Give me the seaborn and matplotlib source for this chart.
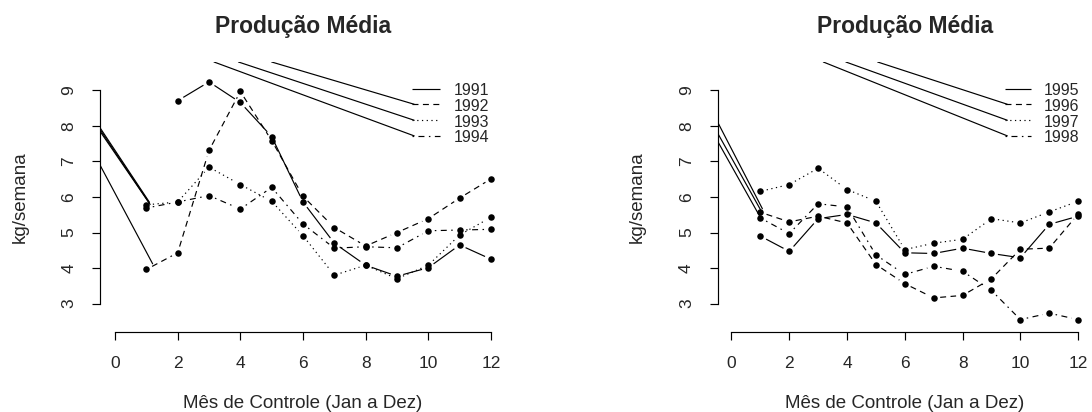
import numpy as np
import pandas as pd
import matplotlib
matplotlib.use("Agg")
import matplotlib.pyplot as plt
import seaborn as sns

# ---------------- data ----------------
nan = float("nan")
months = list(range(1, 13))

years_left = ["1991", "1992", "1993", "1994"]
prod_1991 = [nan, 8.71, 9.24, 8.66, 7.70, 5.86, 4.70, 4.08, 3.77, 4.01, 4.65, 4.25]
prod_1992 = [3.96, 4.43, 7.31, 8.97, 7.59, 6.02, 5.14, 4.62, 5.00, 5.39, 5.97, 6.51]
prod_1993 = [5.78, 5.86, 6.84, 6.35, 5.88, 4.91, 3.80, 4.08, 3.70, 4.08, 4.93, 5.43]
prod_1994 = [5.69, 5.86, 6.04, 5.66, 6.27, 5.24, 4.56, 4.60, 4.57, 5.05, 5.07, 5.09]

years_right = ["1995", "1996", "1997", "1998"]
prod_1995 = [4.90, 4.47, 5.39, 5.51, 5.27, 4.43, 4.41, 4.56, 4.41, 4.29, 5.23, 5.46]
prod_1996 = [5.57, 5.30, 5.46, 5.27, 4.10, 3.56, 3.16, 3.23, 3.70, 4.53, 4.56, 5.52]
prod_1997 = [6.16, 6.35, 6.81, 6.21, 5.88, 4.52, 4.70, 4.81, 5.39, 5.27, 5.58, 5.88]
prod_1998 = [5.41, 4.97, 5.81, 5.72, 4.37, 3.82, 4.05, 3.91, 3.37, 2.55, 2.73, 2.55]

x_ticks = [0, 2, 4, 6, 8, 10, 12]
y_ticks = [3, 4, 5, 6, 7, 8, 9]
title_text = "Produção Média"
xlabel_text = "Mês de Controle (Jan a Dez)"
ylabel_text = "kg/semana"

# stray segments present in the original figure (data coordinates)
top_leader_x_left = [5.00, 3.94, 3.16]      # where they leave the top of the frame (rows 2..4)
top_leader_x_right = [5.06, 3.96, 3.18]
edge_leader_left_y0 = [7.95, 7.90, 7.85, 6.90]
edge_leader_left_x1 = [1.10, 1.10, 1.12, 1.20]
edge_leader_left_y1 = [5.85, 5.82, 5.79, 4.12]
edge_leader_right_y0 = [8.11, 7.80, 7.57]
edge_leader_right_x1 = [1.07, 1.02, 0.97]
edge_leader_right_y1 = [5.67, 5.62, 5.47]

legend_rows_y = [9.04, 8.61, 8.16, 7.72]
legend_line_x = [9.48, 10.37]
legend_text_x = 10.82
leader_end_x = 9.55

XLIM = (-0.48, 12.48)
YLIM = (2.2, 9.8)

# ---------------- style ----------------
sns.set_theme(style="white")
plt.rcParams["font.family"] = ["Liberation Sans", "DejaVu Sans"]
plt.rcParams["lines.scale_dashes"] = False

LW = 0.85
GAP = 6.5  # px, gap around points like R type="b"
line_styles = ["-", (0, (4.3, 3.2)), (0, (0.9, 2.5)), (0, (1.1, 3.2, 4.3, 3.2))]

W, H = 1092, 412
fig = plt.figure(figsize=(W / 100, H / 100), dpi=100)
ax_l = fig.add_axes([100 / W, 80 / H, 406 / W, 270 / H])
ax_r = fig.add_axes([717.6 / W, 80 / H, 374.4 / W, 270 / H])


def setup(ax):
    ax.set_xlim(*XLIM)
    ax.set_ylim(*YLIM)
    ax.set_xticks(x_ticks)
    ax.set_yticks(y_ticks)
    for s in ["top", "right"]:
        ax.spines[s].set_visible(False)
    for s in ["left", "bottom"]:
        ax.spines[s].set_color("black")
        ax.spines[s].set_linewidth(LW)
    ax.spines["left"].set_bounds(y_ticks[0], y_ticks[-1])
    ax.spines["bottom"].set_bounds(x_ticks[0], x_ticks[-1])
    ax.tick_params(axis="both", direction="out", length=6, width=LW, color="black",
                   labelsize=12.5, pad=11, left=True, bottom=True)
    ax.tick_params(axis="y", labelrotation=90)
    for lab in ax.get_yticklabels():
        lab.set_va("center")
        lab.set_ha("right")
    ax.grid(False)
    ax.set_facecolor("white")


def draw_series(ax, ys, style):
    pts = [(x, y) for x, y in zip(months, ys) if not np.isnan(y)]
    inv = ax.transData.inverted()
    for (x0, y0), (x1, y1) in zip(pts[:-1], pts[1:]):
        p0 = ax.transData.transform((x0, y0))
        p1 = ax.transData.transform((x1, y1))
        d = p1 - p0
        L = np.hypot(*d)
        if L <= 2 * GAP:
            continue
        u = d / L
        a = inv.transform(p0 + u * GAP)
        b = inv.transform(p1 - u * GAP)
        ax.plot([a[0], b[0]], [a[1], b[1]], color="black", lw=LW, linestyle=style,
                solid_capstyle="butt", dash_capstyle="butt")


def panel(ax, years, series, top_leader_x, e_y0, e_x1, e_y1):
    setup(ax)
    fig.canvas.draw()
    for ys, st in zip(series, line_styles):
        draw_series(ax, ys, st)
    df = pd.DataFrame({
        "mes": months * len(series),
        "kg": sum([list(s) for s in series], []),
        "ano": sum([[y] * len(months) for y in years], []),
    }).dropna()
    sns.scatterplot(data=df, x="mes", y="kg", color="black", s=22, linewidth=0,
                    ax=ax, legend=False, zorder=3)
    # stray segments from the left border
    for y0, x1, y1 in zip(e_y0, e_x1, e_y1):
        ax.plot([XLIM[0], x1], [y0, y1], color="black", lw=LW)
    # stray segments from the top border to legend rows 2..4
    for xt, yr in zip(top_leader_x, legend_rows_y[1:]):
        ax.plot([xt, leader_end_x], [YLIM[1], yr], color="black", lw=LW)
    # legend
    for yr, st, yy in zip(legend_rows_y, line_styles, years):
        ax.plot(legend_line_x, [yr, yr], color="black", lw=LW, linestyle=st,
                solid_capstyle="butt", dash_capstyle="butt", clip_on=False)
        ax.text(legend_text_x, yr - 0.05, yy, fontsize=11.5, ha="left", va="center",
                clip_on=False)
    ax.set_xlim(*XLIM)
    ax.set_ylim(*YLIM)
    ax.set_xlabel(xlabel_text, fontsize=13.5)
    ax.set_ylabel(ylabel_text, fontsize=13.5)
    ax.xaxis.label.set_va("center")
    ax.yaxis.label.set_va("center")
    ax.xaxis.set_label_coords(0.5, (332 - 403) / 270)
    w_px = ax.get_position().width * W
    ax.yaxis.set_label_coords(-80 / w_px, 0.5)
    ax.text(0.5, (332 - 27) / 270, title_text, transform=ax.transAxes, ha="center",
            va="center", fontsize=16.5, fontweight="bold")


panel(ax_l, years_left, [prod_1991, prod_1992, prod_1993, prod_1994],
      top_leader_x_left, edge_leader_left_y0, edge_leader_left_x1, edge_leader_left_y1)
panel(ax_r, years_right, [prod_1995, prod_1996, prod_1997, prod_1998],
      top_leader_x_right, edge_leader_right_y0, edge_leader_right_x1, edge_leader_right_y1)

fig.savefig("out.png", dpi=100, facecolor="white")
